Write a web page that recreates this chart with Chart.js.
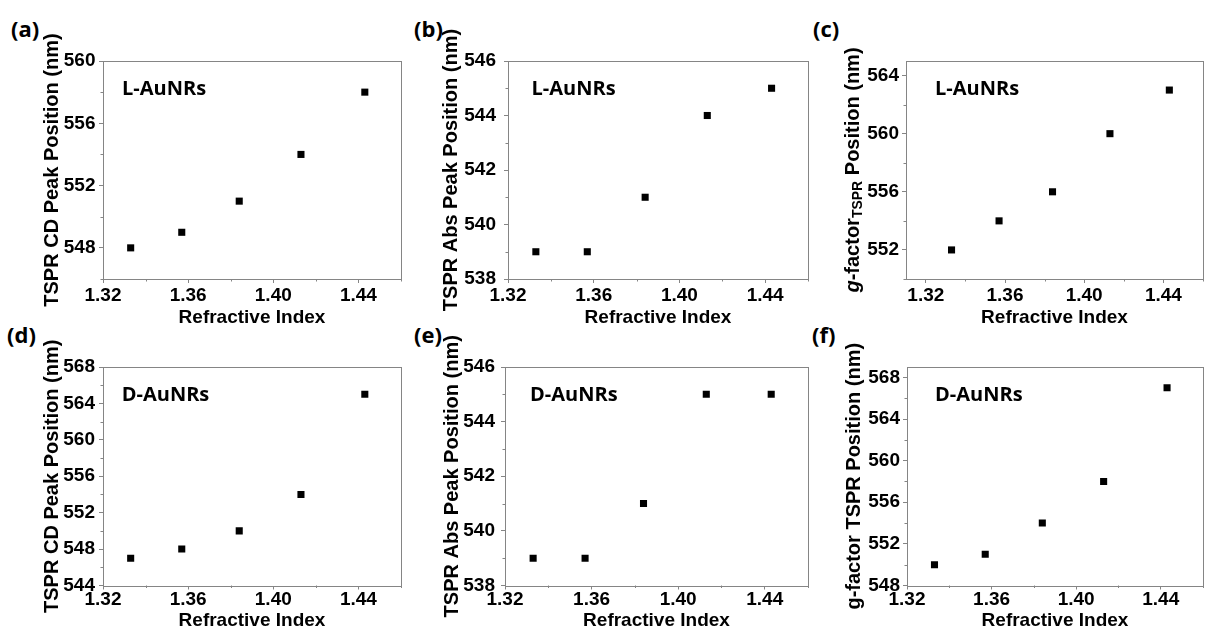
<!DOCTYPE html>
<html>
<head>
<meta charset="utf-8">
<script src="https://cdn.jsdelivr.net/npm/chart.js@4.4.1/dist/chart.umd.min.js"></script>
<style>
  html, body { margin: 0; padding: 0; background: #fff; width: 1208px; height: 632px; overflow: hidden; }
  canvas { position: absolute; }
  .tag { position: absolute; font: bold 22px "Open Sans", sans-serif; line-height: 24px; color: #000; white-space: nowrap; }
</style>
</head>
<body>
<div class="tag" style="left:11px; top:16px">(a)</div>
<div class="tag" style="left:414px; top:16px">(b)</div>
<div class="tag" style="left:813px; top:16px">(c)</div>
<div class="tag" style="left:7px; top:322px">(d)</div>
<div class="tag" style="left:414px; top:322px">(e)</div>
<div class="tag" style="left:812px; top:322px">(f)</div>

<canvas id="pa" width="365" height="306" style="left:42px; top:21px"></canvas>
<canvas id="pb" width="373" height="306" style="left:441px; top:21px"></canvas>
<canvas id="pc" width="365" height="306" style="left:843px; top:21px"></canvas>
<canvas id="pd" width="365" height="303" style="left:42px; top:327px"></canvas>
<canvas id="pe" width="372" height="303" style="left:442px; top:327px"></canvas>
<canvas id="pf" width="364" height="303" style="left:844px; top:327px"></canvas>

<script>
// Refractive index of the surrounding medium
const refractiveIndex = [1.333, 1.357, 1.384, 1.413, 1.443];

// L-AuNRs peak positions (nm)
const cdPeakL = [548, 549, 551, 554, 558];
const absPeakL = [539, 539, 541, 544, 545];
const gFactorPeakL = [552, 554, 556, 560, 563];

// D-AuNRs peak positions (nm)
const cdPeakD = [547, 548, 550, 554, 565];
const absPeakD = [539, 539, 541, 545, 545];
const gFactorPeakD = [550, 551, 554, 558, 567];

// Axis ticks
const xMajorTicks = [1.32, 1.36, 1.40, 1.44];
const xMinorTicks = [1.34, 1.38, 1.42, 1.46];
const cdTicksL = [548, 552, 556, 560];
const cdMinorL = [546, 550, 554, 558];
const absTicks = [538, 540, 542, 544, 546];
const absMinor = [539, 541, 543, 545];
const gTicksL = [552, 556, 560, 564];
const gMinorL = [550, 554, 558, 562];
const cdTicksD = [544, 548, 552, 556, 560, 564, 568];
const cdMinorD = [546, 550, 554, 558, 562, 566];
const gTicksD = [548, 552, 556, 560, 564, 568];
const gMinorD = [550, 554, 558, 562, 566];

const AXIS_GREY = '#858585';
const ARIAL = '"Liberation Sans", Arial, sans-serif';
const TOP_PAD = 40;

const panels = [
  { id: 'pa', values: cdPeakL, yMin: 546, yMax: 560, yTicks: cdTicksL, yMinor: cdMinorL, xMin: 1.32,
    title: 'TSPR CD Peak Position (nm)', sample: 'L-AuNRs',
    yWidth: 61, xHeight: 48, padRight: 6, yPad: 3.5, xPad: 3, textDx: 19, textDy: 34 },
  { id: 'pb', values: absPeakL, yMin: 538, yMax: 546, yTicks: absTicks, yMinor: absMinor, xMin: 1.32,
    title: 'TSPR Abs Peak Position (nm)', sample: 'L-AuNRs',
    yWidth: 67, xHeight: 48, padRight: 6, yPad: 8, xPad: 3, textDx: 23.5, textDy: 34 },
  { id: 'pc', values: gFactorPeakL, yMin: 550, yMax: 565, yTicks: gTicksL, yMinor: gMinorL, xMin: 1.31,
    title: null, sample: 'L-AuNRs',
    yWidth: 63, xHeight: 48, padRight: 2, yPad: 3, xPad: 3, textDx: 29, textDy: 34 },
  { id: 'pd', values: cdPeakD, yMin: 544, yMax: 568, yTicks: cdTicksD, yMinor: cdMinorD, xMin: 1.32,
    title: 'TSPR CD Peak Position (nm)', sample: 'D-AuNRs',
    yWidth: 61, xHeight: 44.5, padRight: 6, yPad: 4, xPad: 1, textDx: 18.7, textDy: 33.7 },
  { id: 'pe', values: absPeakD, yMin: 538, yMax: 546, yTicks: absTicks, yMinor: absMinor, xMin: 1.32,
    title: 'TSPR Abs Peak Position (nm)', sample: 'D-AuNRs',
    yWidth: 63, xHeight: 44.5, padRight: 6, yPad: 6, xPad: 1, textDx: 25, textDy: 33.7 },
  { id: 'pf', values: gFactorPeakD, yMin: 548, yMax: 569, yTicks: gTicksD, yMinor: gMinorD, xMin: 1.32,
    title: 'g-factor TSPR Position (nm)', sample: 'D-AuNRs',
    yWidth: 63, xHeight: 44.5, padRight: 2, yPad: 3, xPad: 1, textDx: 28, textDy: 33.7 }
];

// Frame, minor ticks, sample label and the mixed-style axis title
const panelDecor = {
  id: 'panelDecor',
  afterDraw(chart, args, opts) {
    const { ctx, chartArea: a, scales } = chart;
    ctx.save();
    ctx.strokeStyle = AXIS_GREY;
    ctx.lineWidth = 1;
    ctx.strokeRect(Math.round(a.left) + 0.5, Math.round(a.top) + 0.5,
                   Math.round(a.right - a.left), Math.round(a.bottom - a.top));

    // minor ticks
    ctx.beginPath();
    opts.xMinor.forEach(v => {
      const px = Math.round(scales.x.getPixelForValue(v)) + 0.5;
      ctx.moveTo(px, a.bottom);
      ctx.lineTo(px, a.bottom + 2.5);
    });
    opts.yMinor.forEach(v => {
      const py = Math.round(scales.y.getPixelForValue(v)) + 0.5;
      ctx.moveTo(a.left, py);
      ctx.lineTo(a.left - 2.5, py);
    });
    ctx.stroke();

    // sample label
    ctx.fillStyle = '#000';
    ctx.font = 'bold 20px "Open Sans", sans-serif';
    ctx.textBaseline = 'alphabetic';
    ctx.textAlign = 'left';
    ctx.fillText(opts.sample, a.left + opts.textDx, a.top + opts.textDy);

    // g-factor title with italic g and subscript
    if (opts.richTitle) {
      const segs = [
        { t: 'g', f: 'italic bold 20px ' + ARIAL, dy: 0 },
        { t: '-factor', f: 'bold 20px ' + ARIAL, dy: 0 },
        { t: 'TSPR', f: 'bold 14px ' + ARIAL, dy: 5 },
        { t: ' Position (nm)', f: 'bold 20px ' + ARIAL, dy: 0 }
      ];
      let total = 0;
      segs.forEach(s => { ctx.font = s.f; s.w = ctx.measureText(s.t).width; total += s.w; });
      ctx.translate(10, (a.top + a.bottom) / 2);
      ctx.rotate(-Math.PI / 2);
      ctx.textBaseline = 'middle';
      let x = -total / 2;
      segs.forEach(s => { ctx.font = s.f; ctx.fillText(s.t, x, s.dy); x += s.w; });
    }
    ctx.restore();
  }
};

panels.forEach(p => {
  new Chart(document.getElementById(p.id), {
    type: 'scatter',
    data: {
      datasets: [{
        data: refractiveIndex.map((x, i) => ({ x: x, y: p.values[i] })),
        pointStyle: 'rect',
        pointRadius: 5,
        pointHoverRadius: 5,
        backgroundColor: '#000',
        borderWidth: 0,
        showLine: false
      }]
    },
    options: {
      responsive: false,
      animation: false,
      devicePixelRatio: 1,
      layout: { padding: { top: TOP_PAD, right: p.padRight, bottom: 0, left: 0 } },
      plugins: {
        legend: { display: false },
        tooltip: { enabled: false },
        panelDecor: {
          xMinor: xMinorTicks, yMinor: p.yMinor, sample: p.sample,
          textDx: p.textDx, textDy: p.textDy, richTitle: p.title === null
        }
      },
      scales: {
        x: {
          type: 'linear',
          min: p.xMin, max: 1.46,
          afterBuildTicks: s => { s.ticks = xMajorTicks.map(v => ({ value: v })); },
          afterFit: s => { s.height = p.xHeight; },
          border: { display: false },
          grid: { drawOnChartArea: false, drawTicks: true, tickLength: 4, color: AXIS_GREY, lineWidth: 1 },
          ticks: {
            autoSkip: false, maxRotation: 0, padding: p.xPad, color: '#000',
            font: { family: ARIAL, size: 19, weight: 'bold', lineHeight: 1 },
            callback: v => Number(v).toFixed(2)
          },
          title: {
            display: true, text: 'Refractive Index', color: '#000',
            padding: { top: 0, bottom: 0 },
            font: { family: ARIAL, size: 19, weight: 'bold', lineHeight: 1 }
          }
        },
        y: {
          type: 'linear',
          min: p.yMin, max: p.yMax,
          afterBuildTicks: s => { s.ticks = p.yTicks.map(v => ({ value: v })); },
          afterFit: s => { s.width = p.yWidth; },
          border: { display: false },
          grid: { drawOnChartArea: false, drawTicks: true, tickLength: 4, color: AXIS_GREY, lineWidth: 1 },
          ticks: {
            autoSkip: false, padding: p.yPad, color: '#000',
            font: { family: ARIAL, size: 19, weight: 'bold', lineHeight: 1 },
            callback: v => String(v)
          },
          title: {
            display: p.title !== null, text: p.title || '', color: '#000',
            padding: { top: 0, bottom: 0 },
            font: { family: ARIAL, size: 20, weight: 'bold', lineHeight: 1 }
          }
        }
      }
    },
    plugins: [panelDecor]
  });
});
</script>
</body>
</html>
